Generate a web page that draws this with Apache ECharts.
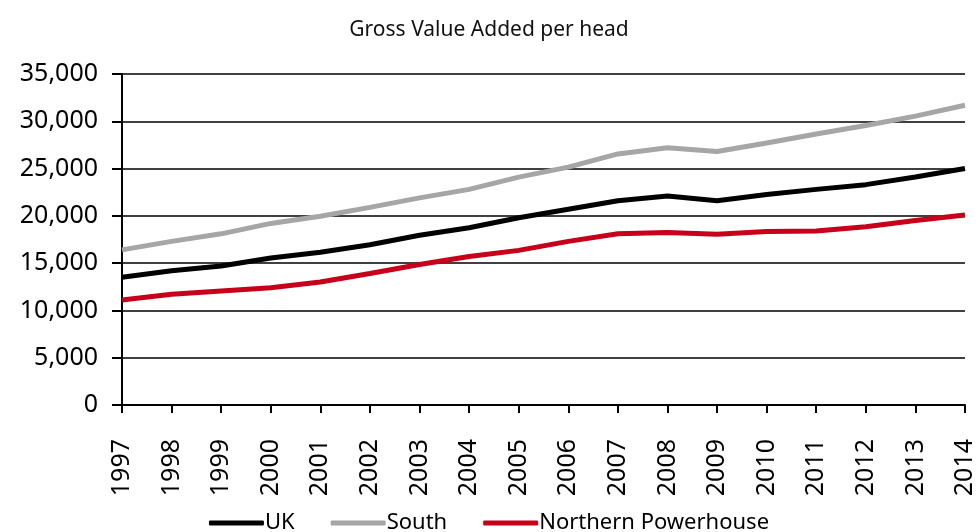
<!DOCTYPE html>
<html><head><meta charset="utf-8">
<script src="https://cdn.jsdelivr.net/npm/echarts@6/dist/echarts.min.js"></script>
<style>html,body{margin:0;padding:0;background:#fff}#c{width:978px;height:532px}</style>
</head><body><div id="c"></div>
<script>
const years = ['1997','1998','1999','2000','2001','2002','2003','2004','2005','2006','2007','2008','2009','2010','2011','2012','2013','2014'];
const uk = [13500,14200,14700,15550,16150,16950,17950,18750,19800,20700,21600,22100,21600,22250,22800,23300,24100,25000];
const south = [16400,17300,18100,19200,19950,20900,21900,22800,24100,25150,26550,27200,26800,27700,28650,29550,30550,31700];
const northern = [11100,11700,12050,12400,13000,13900,14850,15700,16350,17300,18100,18250,18050,18350,18400,18850,19500,20100];
const yTicks = {min:0, max:35000, interval:5000};
const font = 'Noto Sans';
const chart = echarts.init(document.getElementById('c'));
chart.setOption({
  animation:false,
  title:{text:'Gross Value Added per head',left:'center',top:15,textStyle:{fontFamily:font,fontSize:21,fontWeight:'normal',color:'#111'}},
  grid:{left:122,right:13,top:74,bottom:127},
  legend:{bottom:-7,left:'center',itemWidth:55,itemHeight:5,itemGap:36,icon:'roundRect',
    textStyle:{fontFamily:font,fontSize:22,color:'#000',padding:[0,0,0,-4]},
    data:['UK','South','Northern Powerhouse']},
  xAxis:{type:'category',data:years,boundaryGap:false,
    axisLine:{lineStyle:{color:'#000',width:2}},
    axisTick:{show:true,length:8,lineStyle:{color:'#000',width:2},alignWithLabel:true},
    axisLabel:{rotate:90,fontFamily:font,fontSize:25,color:'#000',margin:34,interval:0}},
  yAxis:{type:'value',min:yTicks.min,max:yTicks.max,interval:yTicks.interval,
    axisLine:{show:true,lineStyle:{color:'#000',width:2}},
    axisTick:{show:true,length:10,lineStyle:{color:'#000',width:2}},
    splitLine:{lineStyle:{color:'#000',width:1.5}},
    axisLabel:{fontFamily:font,fontSize:25,color:'#000',margin:24,
      formatter:v=>v.toLocaleString('en-US')}},
  series:[
    {name:'UK',type:'line',data:uk,symbol:'none',lineStyle:{color:'#000',width:5},itemStyle:{color:'#000'}},
    {name:'South',type:'line',data:south,symbol:'none',lineStyle:{color:'#a6a6a6',width:5},itemStyle:{color:'#a6a6a6'}},
    {name:'Northern Powerhouse',type:'line',data:northern,symbol:'none',lineStyle:{color:'#c8001a',width:5},itemStyle:{color:'#c8001a'}}
  ]
});
</script></body></html>
